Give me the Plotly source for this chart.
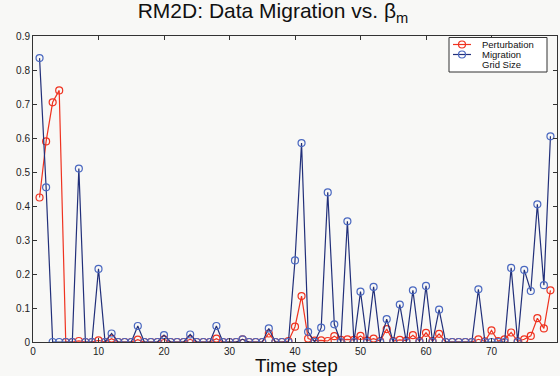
import plotly.graph_objects as go

time_steps = list(range(1, 80))

perturbation = [
    0.425, 0.59, 0.705, 0.74, 0.0, 0.0, 0.003, 0.0, 0.0, 0.005,
    0.0, 0.01, 0.0, 0.0, 0.0, 0.007, 0.0, 0.0, 0.0, 0.008,
    0.0, 0.0, 0.0, 0.008, 0.0, 0.0, 0.0, 0.01, 0.0, 0.0,
    0.0, 0.008, 0.0, 0.0, 0.0, 0.025, 0.0, 0.0, 0.003, 0.045,
    0.135, 0.01, 0.004, 0.005, 0.003, 0.017, 0.006, 0.008, 0.006, 0.018,
    0.004, 0.01, 0.003, 0.038, 0.003, 0.006, 0.004, 0.02, 0.003, 0.027,
    0.003, 0.024, 0.0, 0.0, 0.0, 0.0, 0.0, 0.008, 0.002, 0.034,
    0.003, 0.008, 0.028, 0.002, 0.008, 0.018, 0.07, 0.04, 0.152,
]

migration = [
    0.835, 0.455, 0.0, 0.0, 0.0, 0.0, 0.51, 0.0, 0.0, 0.215,
    0.0, 0.025, 0.0, 0.0, 0.0, 0.047, 0.0, 0.0, 0.0, 0.02,
    0.0, 0.0, 0.0, 0.022, 0.0, 0.0, 0.0, 0.047, 0.0, 0.0,
    0.0, 0.008, 0.0, 0.0, 0.0, 0.04, 0.0, 0.0, 0.0, 0.24,
    0.585, 0.03, 0.0, 0.042, 0.44, 0.052, 0.0, 0.355, 0.0, 0.148,
    0.0, 0.162, 0.0, 0.067, 0.0, 0.11, 0.0, 0.152, 0.0, 0.165,
    0.0, 0.095, 0.0, 0.0, 0.0, 0.0, 0.0, 0.155, 0.0, 0.0,
    0.0, 0.0, 0.218, 0.0, 0.212, 0.15, 0.405, 0.167, 0.605,
]

series_names = ["Perturbation", "Migration", "Grid Size"]

x_ticks = [0, 10, 20, 30, 40, 50, 60, 70, 80]
y_ticks = [0, 0.1, 0.2, 0.3, 0.4, 0.5, 0.6, 0.7, 0.8, 0.9]
y_tick_labels = ["0", "0.1", "0.2", "0.3", "0.4", "0.5", "0.6", "0.7", "0.8", "0.9"]

RED = "#ef3320"
NAVY = "#22307a"
BLUE_MK = "#4a68c0"
FONT = "Liberation Sans, Arial, sans-serif"

PLOT_L, PLOT_W, PLOT_B, PLOT_H = 33, 524, 342, 306


def px_x(p):
    return (p - PLOT_L) / PLOT_W


def px_y(p):
    return (PLOT_B - p) / PLOT_H


fig = go.Figure()
fig.add_trace(go.Scatter(
    x=time_steps, y=perturbation, mode="lines+markers", name=series_names[0],
    line=dict(color=RED, width=1.2), showlegend=False,
    marker=dict(symbol="circle-open", size=7, color=RED, line=dict(width=1.2, color=RED)),
))
fig.add_trace(go.Scatter(
    x=time_steps, y=migration, mode="lines+markers", name=series_names[1],
    line=dict(color=NAVY, width=1.2), showlegend=False,
    marker=dict(symbol="circle-open", size=7, color=BLUE_MK, line=dict(width=1.2, color=BLUE_MK)),
))

axis_common = dict(
    showgrid=False, zeroline=False, showline=True, mirror="ticks",
    linecolor="#333333", linewidth=1, ticks="inside", ticklen=4,
    tickcolor="#333333", tickfont=dict(family=FONT, size=10, color="#222222"),
)

# ---- hand-built compact legend (paper coordinates) ----
rows_px = [44.5, 54.5, 64.5]
legend_colors = [(RED, RED), (NAVY, BLUE_MK), (None, None)]

shapes = [dict(type="rect", xref="paper", yref="paper",
               x0=px_x(449), x1=px_x(547), y0=px_y(72), y1=px_y(37.5),
               line=dict(color="#333333", width=1), fillcolor="#ffffff", layer="above")]
annotations = []
rx = 3.5 / PLOT_W
ry = 3.5 / PLOT_H
for name, rp, (lc, mc) in zip(series_names, rows_px, legend_colors):
    yy = px_y(rp)
    if lc is not None:
        shapes.append(dict(type="line", xref="paper", yref="paper", x0=px_x(453), x1=px_x(471),
                           y0=yy, y1=yy, line=dict(color=lc, width=1.2), layer="above"))
        xc = px_x(462)
        shapes.append(dict(type="circle", xref="paper", yref="paper",
                           x0=xc - rx, x1=xc + rx, y0=yy - ry, y1=yy + ry,
                           line=dict(color=mc, width=1.2), fillcolor="rgba(0,0,0,0)", layer="above"))
    annotations.append(dict(text=name, xref="paper", yref="paper", x=px_x(480), y=yy,
                            xanchor="left", yanchor="middle", showarrow=False,
                            font=dict(family=FONT, size=9.5, color="#111111")))

annotations.append(dict(text="Time step", xref="paper", yref="paper", x=px_x(296), y=px_y(365),
                        xanchor="center", yanchor="middle", showarrow=False,
                        font=dict(family=FONT, size=19, color="#111111")))

fig.update_layout(
    width=560, height=376,
    margin=dict(l=PLOT_L, r=560 - PLOT_L - PLOT_W, t=PLOT_B - PLOT_H, b=376 - PLOT_B),
    paper_bgcolor="#f8f8f6", plot_bgcolor="#f8f8f6",
    font=dict(family=FONT, color="#111111"),
    title=dict(text="RM2D: Data Migration vs. β<sub>m</sub>", x=273 / 560, xanchor="center",
               y=0.99, yanchor="top", font=dict(family=FONT, size=21, color="#111111")),
    xaxis=dict(range=[0, 80], tickvals=x_ticks, ticktext=[str(v) for v in x_ticks], **axis_common),
    yaxis=dict(range=[0, 0.9], tickvals=y_ticks, ticktext=y_tick_labels, **axis_common),
    showlegend=False,
    shapes=shapes,
    annotations=annotations,
)

fig.write_html("out.html")
